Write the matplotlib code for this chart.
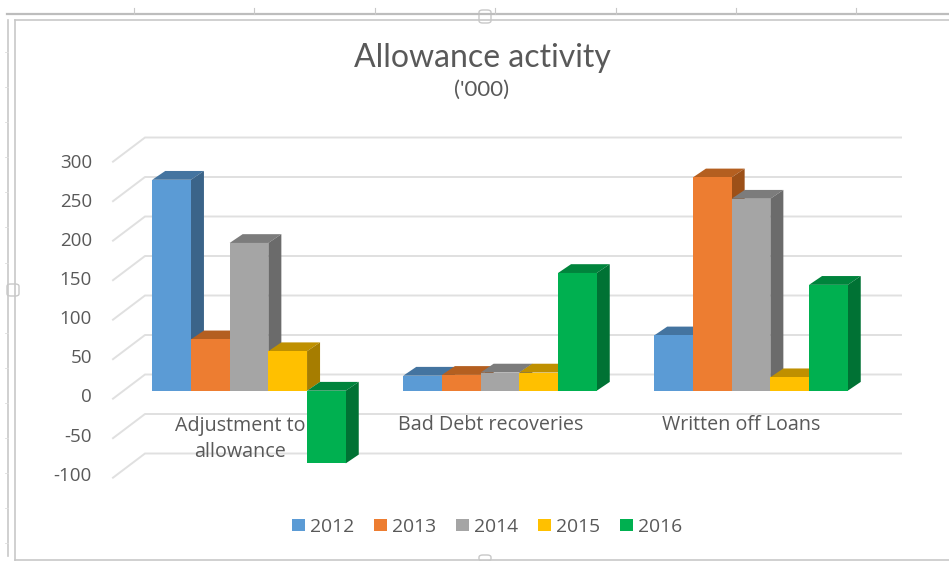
import matplotlib
matplotlib.use("Agg")
import matplotlib.pyplot as plt
from matplotlib.lines import Line2D
from matplotlib.patches import Patch, FancyBboxPatch

W, H = 949, 561

categories = ["Adjustment to\nallowance", "Bad Debt recoveries", "Written off Loans"]
years = ["2012", "2013", "2014", "2015", "2016"]
y_ticks = [300, 250, 200, 150, 100, 50, 0, -50, -100]

v_2012 = [267, 19, 70]
v_2013 = [65, 20, 270]
v_2014 = [187, 23, 243]
v_2015 = [50, 23, 17]
v_2016 = [-92, 149, 134]
series = [v_2012, v_2013, v_2014, v_2015, v_2016]

front_colors = ["#5B9BD5", "#ED7D31", "#A5A5A5", "#FFC000", "#00B050"]
top_colors = ["#4474A0", "#B45F20", "#7C7C7C", "#BF9000", "#00843C"]
side_colors = ["#3B6489", "#9C5018", "#6B6B6B", "#A67D00", "#007234"]
TEXT = "#595959"
GRID = "#E0E0E0"
CHROME = "#C8C8C8"

plt.rcParams["font.family"] = ["Open Sans", "DejaVu Sans"]

# one axes over the whole figure: x in category units, y in chart values
PX_PER_CAT = 251.0
PX_PER_VAL = 0.79
X0_PX, Y0_PX = 500.0, 390.7

fig = plt.figure(figsize=(W / 100, H / 100), dpi=100, facecolor="white")
ax = fig.add_axes([0, 0, 1, 1])
ax.set_xlim((0 - X0_PX) / PX_PER_CAT + 1, (W - X0_PX) / PX_PER_CAT + 1)
ax.set_ylim((Y0_PX - H) / PX_PER_VAL, Y0_PX / PX_PER_VAL)
ax.axis("off")


def xcat(px):
    return (px - X0_PX) / PX_PER_CAT + 1


bar_w = 38.7 / PX_PER_CAT
dx = 13 / PX_PER_CAT
dy = 8.8 / PX_PER_VAL

# walls: floor-to-back diagonal, then the line along the back
WALL_SHIFT = 20.5
EDGE_SHIFT = -10.1
for t in y_ticks:
    ax.plot([xcat(113), xcat(145), xcat(901)],
            [t + EDGE_SHIFT, t + WALL_SHIFT, t + WALL_SHIFT],
            color=GRID, lw=1.4, zorder=1, solid_joinstyle="miter")
    # tick labels follow the front edge, a little tighter than the wall
    ax.text(xcat(92), 0.9905 * t - 8.55, str(t), ha="right", va="center",
            fontsize=13.5, color=TEXT, zorder=2)

# bars left to right so each front face hides the side of the previous one
z = 3
for c in range(len(categories)):
    for s in range(len(years)):
        v = series[s][c]
        x = c - 2.5 * bar_w + s * bar_w
        top = max(v, 0)
        low = min(v, 0)
        ax.fill([x, x + dx, x + bar_w + dx, x + bar_w],
                [top, top + dy, top + dy, top],
                color=top_colors[s], lw=0, zorder=z)
        ax.fill([x + bar_w, x + bar_w + dx, x + bar_w + dx, x + bar_w],
                [top, top + dy, low + dy, low],
                color=side_colors[s], lw=0, zorder=z)
        ax.bar(x, v, width=bar_w, align="edge", color=front_colors[s], lw=0, zorder=z + 1)
        z += 2

# category labels sit on the floor, left of the group centre
label_x = [240, 490.5, 741]
for lx, name in zip(label_x, categories):
    ax.text(xcat(lx), (Y0_PX - 415.5) / PX_PER_VAL, name, ha="center", va="top",
            fontsize=14.2, color=TEXT, linespacing=1.42, zorder=2)

fig.text(482.5 / W, 1 - 58 / H, "Allowance activity", ha="center", va="center",
         fontsize=23, color=TEXT, family=["Lato", "DejaVu Sans"])
fig.text(482 / W, 1 - 90 / H, "('000)", ha="center", va="center",
         fontsize=16, color=TEXT, family=["Lato", "DejaVu Sans"])

handles = [Patch(color=col, lw=0, label=y) for col, y in zip(front_colors, years)]
ax.legend(handles=handles, ncol=5, loc="center", frameon=False,
          bbox_to_anchor=(487 / W, 1 - 527 / H), fontsize=13.9, labelcolor=TEXT,
          handlelength=0.67, handleheight=0.6, handletextpad=0.26, columnspacing=1.03)


# worksheet frame round the chart object
def chrome_line(x0, y0, x1, y1, lw=1.2, color=CHROME):
    fig.add_artist(Line2D([x0 / W, x1 / W], [1 - y0 / H, 1 - y1 / H], color=color, lw=lw))


chrome_line(7, 14, W, 14, lw=1.6, color="#BDBDBD")
chrome_line(15, 20, W, 20)
chrome_line(8, 20, 8, 556, lw=1.2)
chrome_line(15, 20, 15, 560, lw=1.2)
chrome_line(15, 560, W, 560)
for tick_x in [134, 254, 375, 495, 616, 736, 856]:
    chrome_line(tick_x, 8, tick_x, 14, lw=0.8)
for tick_y in [52, 87, 122, 157, 192, 227, 263, 333, 368, 403, 438, 473, 508, 543]:
    chrome_line(5, tick_y, 8, tick_y, lw=0.6, color="#DDDDDD")
for hx, hy, hw, hh in [(479, 10, 12, 13), (7, 284, 12, 12), (479, 555, 12, 6)]:
    fig.add_artist(FancyBboxPatch((hx / W, 1 - (hy + hh) / H), hw / W, hh / H,
                                  boxstyle="round,pad=0,rounding_size=0.004",
                                  transform=fig.transFigure,
                                  facecolor="white", edgecolor=CHROME, lw=1.0))

fig.savefig("out.png", dpi=100, facecolor="white")
